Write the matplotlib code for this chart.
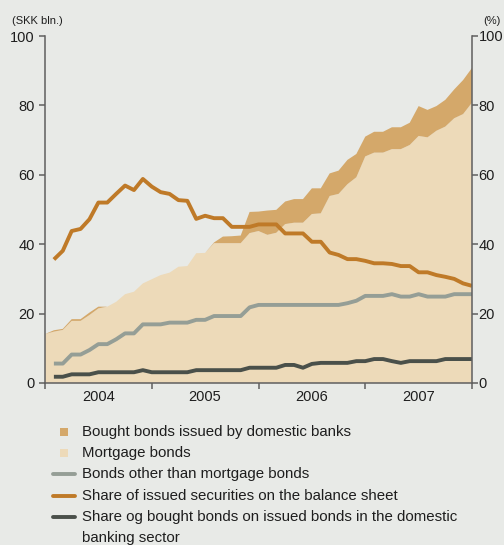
import matplotlib.pyplot as plt
import numpy as np
from matplotlib.patches import Rectangle

plt.rcParams['font.family'] = ['Liberation Sans', 'DejaVu Sans']

years = ['2004', '2005', '2006', '2007']

# stacked areas, month ends Dec 2003 - Dec 2007 (SKK bln.)
mortgage_bonds = [14.1, 14.8, 15.3, 17.9, 17.9, 19.6, 21.5, 22.0, 23.4, 25.6,
                  26.3, 28.7, 29.9, 31.1, 31.8, 33.5, 33.7, 37.4, 37.5, 40.3,
                  40.3, 40.3, 40.3, 43.2, 43.8, 42.7, 43.3, 45.8, 46.2, 46.2,
                  48.7, 48.9, 53.9, 54.5, 57.3, 59.3, 65.3, 66.4, 66.4, 67.4,
                  67.4, 68.6, 71.2, 70.8, 72.7, 73.9, 76.3, 77.5, 80.8]
bought_domestic = [0.0, 0.4, 0.3, 0.5, 0.5, 0.7, 0.5, 0.0, 0.0, 0.0,
                   0.0, 0.0, 0.0, 0.0, 0.0, 0.0, 0.0, 0.0, 0.0, 0.2,
                   1.9, 2.0, 2.2, 6.1, 5.6, 7.0, 6.6, 6.5, 6.8, 6.8,
                   7.4, 7.2, 6.5, 6.7, 7.0, 6.7, 5.7, 6.0, 6.0, 6.3,
                   6.3, 6.4, 8.6, 7.9, 7.1, 7.7, 8.3, 9.8, 10.0]

# lines, month ends Jan 2004 - Dec 2007
other_bonds = [5.6, 5.6, 8.2, 8.2, 9.5, 11.2, 11.2, 12.6, 14.3, 14.3,
               16.9, 16.9, 16.9, 17.4, 17.4, 17.4, 18.2, 18.2, 19.3, 19.3,
               19.3, 19.3, 21.8, 22.5, 22.5, 22.5, 22.5, 22.5, 22.5, 22.5,
               22.5, 22.5, 22.5, 23.0, 23.7, 25.1, 25.1, 25.1, 25.6, 24.9,
               24.9, 25.6, 24.9, 24.9, 24.9, 25.6, 25.6, 25.6]
share_issued = [35.6, 38.1, 43.8, 44.4, 47.2, 52.0, 52.0, 54.5, 56.9, 55.6,
                58.8, 56.6, 55.0, 54.5, 52.7, 52.5, 47.3, 48.2, 47.5, 47.5,
                45.0, 45.0, 45.0, 45.7, 45.7, 45.7, 43.1, 43.1, 43.1, 40.7,
                40.7, 37.6, 36.9, 35.7, 35.7, 35.2, 34.5, 34.5, 34.3, 33.7,
                33.7, 31.9, 31.9, 31.1, 30.6, 30.0, 28.7, 28.0]
share_bought = [1.8, 1.8, 2.5, 2.5, 2.5, 3.1, 3.1, 3.1, 3.1, 3.1,
                3.7, 3.1, 3.1, 3.1, 3.1, 3.1, 3.7, 3.7, 3.7, 3.7,
                3.7, 3.7, 4.4, 4.4, 4.4, 4.4, 5.2, 5.2, 4.4, 5.5,
                5.8, 5.8, 5.8, 5.8, 6.3, 6.3, 6.9, 6.9, 6.3, 5.8,
                6.3, 6.3, 6.3, 6.3, 6.9, 6.9, 6.9, 6.9]

bg = '#e8eae7'
c_light = '#eddab9'
c_dark = '#d4a86a'
c_gray = '#959e96'
c_orange = '#bf7a28'
c_black = '#4a504a'
c_axis = '#5f5f5f'
c_text = '#1e1e1e'

x_area = np.arange(len(mortgage_bonds))
x_line = np.arange(1, len(other_bonds) + 1)

fig = plt.figure(figsize=(5.04, 5.45), dpi=100, facecolor=bg)
ax = fig.add_axes([45 / 504, 1 - 383 / 545, 427 / 504, 347 / 545])
ax.set_facecolor(bg)

ax.stackplot(x_area, mortgage_bonds, bought_domestic,
             colors=[c_light, c_dark], linewidth=0)
ax.plot(x_line, other_bonds, color=c_gray, lw=2.8, solid_capstyle='butt')

ax2 = ax.twinx()
ax2.plot(x_line, share_bought, color=c_black, lw=2.8, solid_capstyle='butt')
ax2.plot(x_line, share_issued, color=c_orange, lw=2.8, solid_capstyle='butt')

for a in (ax, ax2):
    a.set_xlim(0, 48)
    a.set_ylim(0, 100)
    a.set_yticks(range(0, 101, 20))
    for s in a.spines.values():
        s.set_color(c_axis)
        s.set_linewidth(1.1)
    a.spines['top'].set_visible(False)

ax.spines['right'].set_visible(False)
ax2.spines['left'].set_visible(False)
ax2.spines['bottom'].set_visible(False)

ax.tick_params(axis='y', length=4.3, width=1.1, color=c_axis, pad=3,
               labelsize=10.5, labelcolor=c_text)
ax2.tick_params(axis='y', length=4.3, width=1.1, color=c_axis, pad=0.5,
                labelsize=10.5, labelcolor=c_text)

ax.set_xticks([0, 12, 24, 36, 48])
ax.set_xticklabels([])
ax.set_xticks([6, 18, 30, 42], minor=True)
ax.set_xticklabels(years, minor=True)
ax.tick_params(axis='x', which='major', length=4, width=1.1, color=c_axis)
ax.tick_params(axis='x', which='minor', length=0, pad=5, labelsize=10.5,
               labelcolor=c_text)

fig.text(12 / 504, 1 - 21 / 545, '(SKK bln.)', fontsize=8, color=c_text,
         va='center', ha='left')
fig.text(501 / 504, 1 - 21 / 545, '(%)', fontsize=8, color=c_text,
         va='center', ha='right')

# legend drawn in pixel coordinates
lg = fig.add_axes([0, 0, 1, 1], facecolor='none')
lg.set_xlim(0, 504)
lg.set_ylim(545, 0)
lg.axis('off')

rows = [432, 453, 474, 496, 517]
for y, c in zip(rows[:2], [c_dark, c_light]):
    lg.add_patch(Rectangle((60, y - 4), 8, 8, color=c, lw=0))
for y, c in zip(rows[2:], [c_gray, c_orange, c_black]):
    lg.plot([53, 75], [y, y], color=c, lw=2.8, solid_capstyle='round')

labels = ['Bought bonds issued by domestic banks',
          'Mortgage bonds',
          'Bonds other than mortgage bonds',
          'Share of issued securities on the balance sheet',
          'Share og bought bonds on issued bonds in the domestic']
for y, t in zip(rows, labels):
    lg.text(82, y, t, fontsize=10.8, color=c_text, va='center', ha='left')
lg.text(82, 538, 'banking sector', fontsize=10.8, color=c_text,
        va='center', ha='left')

fig.savefig('out.png', dpi=100, facecolor=bg)
